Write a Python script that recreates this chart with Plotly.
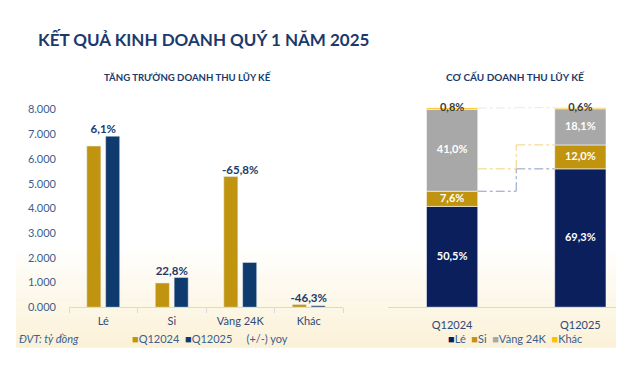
import plotly.graph_objects as go

# ---------------- data ----------------
categories = ["Lé", "Si", "Vàng 24K", "Khác"]
q12024 = [6520, 980, 5290, 105]
q12025 = [6920, 1200, 1810, 56]
yoy_labels = ["6,1%", "22,8%", "-65,8%", "-46,3%"]
y_tickvals = [0, 1000, 2000, 3000, 4000, 5000, 6000, 7000, 8000]
y_ticktext = ["0.000", "1.000", "2.000", "3.000", "4.000", "5.000", "6.000", "7.000", "8.000"]

periods = ["Q12024", "Q12025"]
seg_names = ["Lé", "Si", "Vàng 24K", "Khác"]
share_2024 = [50.5, 7.6, 41.0, 0.8]
share_2025 = [69.3, 12.0, 18.1, 0.6]

# ---------------- styles ----------------
W, H = 628, 365
OFF = 8  # page body margin offset
FONT = "Lato"
NAVY_T = "#1B3A6B"
GOLD = "#C1940F"
NAVY_L = "#0E3A6E"
NAVY_R = "#0B1F5C"
GREY = "#A8A8A8"
YELLOW = "#FFC000"
seg_colors = [NAVY_R, GOLD, GREY, YELLOW]


def px(x):
    return (x - OFF) / W


def py(y):
    return 1 - (y - OFF) / H


fig = go.Figure()

# ---- left: grouped bars ----
fig.add_bar(x=categories, y=q12024, name="Q12024", marker_color=GOLD,
            width=0.205, offset=-0.24, xaxis="x", yaxis="y", showlegend=False)
fig.add_bar(x=categories, y=q12025, name="Q12025", marker_color=NAVY_L,
            width=0.205, offset=0.035, xaxis="x", yaxis="y", showlegend=False)
fig.add_scatter(x=categories, y=[max(a, b) for a, b in zip(q12024, q12025)],
                mode="text", text=yoy_labels, textposition="top center",
                textfont=dict(family=FONT, size=11.5, color=NAVY_T, weight="bold"),
                xaxis="x", yaxis="y", showlegend=False, cliponaxis=False)

# ---- right: stacked share bars ----
shares = [share_2024, share_2025]
bases = []
for s in shares:
    b, acc = [], 0.0
    for v in s:
        b.append(acc)
        acc += v
    bases.append(b)

for i, name in enumerate(seg_names):
    vals = [shares[0][i], shares[1][i]]
    bs = [bases[0][i], bases[1][i]]
    fig.add_bar(x=[0, 1], y=vals, base=bs, name=name, marker_color=seg_colors[i],
                marker_line=dict(color="rgba(255,255,255,0.7)", width=0.8),
                width=0.4, offset=-0.2, xaxis="x2", yaxis="y2", showlegend=False)

lab_x, lab_y, lab_t, lab_c = [], [], [], []
for p in range(2):
    for i in range(4):
        lab_x.append(p)
        lab_y.append(bases[p][i] + shares[p][i] / 2)
        lab_t.append(f"{shares[p][i]:.1f}%".replace(".", ","))
        lab_c.append("#3A3A3A" if i == 3 else "white")
fig.add_scatter(x=lab_x, y=lab_y, mode="text", text=lab_t,
                textfont=dict(family=FONT, size=11, color=lab_c, weight="bold"),
                xaxis="x2", yaxis="y2", showlegend=False, cliponaxis=False)


# connector dash-dot lines between the two stacked bars
def connector(y_left, y_right, color):
    xr0, xr1 = 0.2, 0.8
    xm = 0.5
    for (x0, y0, x1, y1) in [(xr0, y_left, xm, y_left), (xm, y_left, xm, y_right),
                             (xm, y_right, xr1, y_right)]:
        fig.add_shape(type="line", xref="x2", yref="y2", x0=x0, y0=y0, x1=x1, y1=y1,
                      line=dict(color=color, width=1, dash="dashdot"))


connector(bases[0][2], bases[1][1], "#8A9CC6")
connector(bases[1][1], bases[1][2], "#F2D27A")
connector(bases[0][3] + share_2024[3], bases[1][3] + share_2025[3], "#D8D8D8")

# ---------------- background gradient panel ----------------
steps = 18
y_top, y_bot = 250, 353
for k in range(steps):
    ya = y_top + (y_bot - y_top) * k / steps
    yb = y_top + (y_bot - y_top) * (k + 1) / steps
    a = (k + 1) / steps
    fig.add_shape(type="rect", xref="paper", yref="paper", layer="below",
                  x0=px(16), x1=px(616), y0=py(yb), y1=py(ya),
                  fillcolor=f"rgba(250,238,205,{0.8 * a:.3f})", line_width=0)

# ---------------- layout ----------------
fig.update_layout(
    width=W, height=H, margin=dict(l=0, r=0, t=0, b=0),
    paper_bgcolor="white", plot_bgcolor="rgba(0,0,0,0)",
    barmode="overlay",
    font=dict(family=FONT, color=NAVY_T),
    xaxis=dict(domain=[px(69), px(343)], type="category", showgrid=False,
               showline=True, linecolor="#D9D9D9", linewidth=1,
               ticks="outside", tickson="boundaries", ticklen=5, tickcolor="#D9D9D9",
               ticklabelstandoff=4,
               tickfont=dict(family=FONT, size=11, color="#2E4A78"), fixedrange=True),
    yaxis=dict(domain=[py(311), py(106)], range=[0, 8000], showgrid=False, zeroline=False,
               tickvals=y_tickvals, ticktext=y_ticktext, ticks="", ticklabelstandoff=12,
               tickfont=dict(family=FONT, size=11, color="#3C5E8E"), fixedrange=True),
    xaxis2=dict(domain=[px(388), px(616)], range=[-0.5, 1.278], showgrid=False,
                tickvals=[0, 1], ticktext=periods, showline=True, linecolor="#D9D9D9",
                zeroline=False, ticks="", ticklabelstandoff=8,
                tickfont=dict(family=FONT, size=11, color="#2E4A78"), fixedrange=True),
    yaxis2=dict(domain=[py(311), py(104)], range=[0, 100], visible=False,
                anchor="x2", fixedrange=True),
)

ann = []
ann.append(dict(text="<b>KẾT QUẢ KINH DOANH QUÝ 1 NĂM 2025</b>", x=px(36), y=py(33),
                xanchor="left", yanchor="middle",
                font=dict(family=FONT, size=17, color=NAVY_T)))
ann.append(dict(text="<b>TĂNG TRƯỞNG DOANH THU LŨY KẾ</b>", x=px(188), y=py(72),
                xanchor="center", yanchor="middle",
                font=dict(family=FONT, size=9.6, color=NAVY_T)))
ann.append(dict(text="<b>CƠ CẤU DOANH THU LŨY KẾ</b>", x=px(515), y=py(72),
                xanchor="center", yanchor="middle",
                font=dict(family=FONT, size=10, color=NAVY_T)))
ann.append(dict(text="<i>ĐVT: tỷ đồng</i>", x=px(17), y=py(343), xanchor="left",
                yanchor="middle", font=dict(family=FONT, size=11, color="#3C5E8E")))
ann.append(dict(text=f"<span style='color:{GOLD}'>■</span>Q12024  "
                     f"<span style='color:{NAVY_L}'>■</span>Q12025     (+/-) yoy",
                x=px(130), y=py(343), xanchor="left", yanchor="middle",
                font=dict(family=FONT, size=11, color="#3C5E8E")))
ann.append(dict(text=f"<span style='color:{NAVY_R}'>■</span>Lé  "
                     f"<span style='color:{GOLD}'>■</span>Si  "
                     f"<span style='color:{GREY}'>■</span>Vàng 24K  "
                     f"<span style='color:{YELLOW}'>■</span>Khác",
                x=px(515), y=py(343), xanchor="center", yanchor="middle",
                font=dict(family=FONT, size=11, color="#3C5E8E")))
for a in ann:
    a.update(xref="paper", yref="paper", showarrow=False)
fig.update_layout(annotations=ann)

fig.write_html("out.html")
